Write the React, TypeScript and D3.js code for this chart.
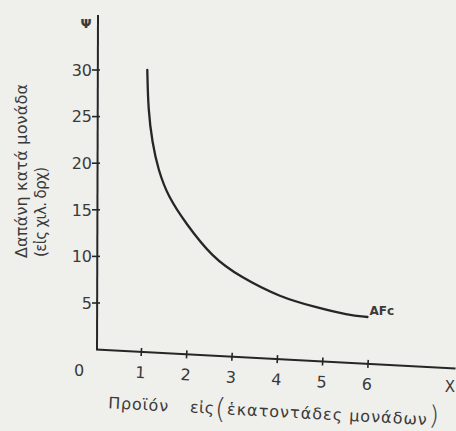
import React from 'react';
import * as d3 from 'd3';

// Output (hundreds of units) and average fixed cost (thousand drachmas)
const outputHundreds = [1.13, 1.15, 1.24, 1.37, 1.59, 1.97, 2.56, 3.18, 4.06, 4.88, 5.54, 5.98];
const costPerUnit = [30, 25.7, 22.2, 19.3, 16.4, 13.6, 9.9, 7.8, 5.6, 4.5, 3.7, 3.5];

const xTicks = [1, 2, 3, 4, 5, 6];
const yTicks = [5, 10, 15, 20, 25, 30];

const W = 456;
const H = 431;
const INK = '#262626';
const TEXT = '#3a3a3a';
const FONT = '"DejaVu Sans", sans-serif';

export default function App() {
  const x = d3.scaleLinear().domain([0, 6]).range([96, 368.4]);
  const y = d3.scaleLinear().domain([0, 30]).range([349.6, 70]);

  const ox = x(0);
  const oy = y(0);
  const xAxisEnd = W; // axis runs off the right edge
  const yAxisTop = 15;
  const tilt = 3; // hand-drawn x axis slopes down slightly

  const pts: [number, number][] = outputHundreds.map((v, i) => [v, costPerUnit[i]]);
  const line = d3
    .line<[number, number]>()
    .x((d) => x(d[0]))
    .y((d) => y(d[1]))
    .curve(d3.curveBasis);

  const last = pts[pts.length - 1];

  return (
    <svg
      width={W}
      height={H}
      style={{ position: 'absolute', left: 0, top: 0, background: '#efefec' }}
      fontFamily={FONT}
    >
      <rect width={W} height={H} fill="#efefec" />

      {/* y axis */}
      <line x1={ox + 1} y1={oy} x2={ox + 2} y2={yAxisTop} stroke={INK} strokeWidth={2} />
      <text x={ox - 10} y={28} fontSize={13} fill={TEXT} textAnchor="middle" fontWeight="bold">
        Ψ
      </text>
      {yTicks.map((t) => (
        <g key={t}>
          <line x1={ox - 4} x2={ox + 4} y1={y(t)} y2={y(t)} stroke={INK} strokeWidth={1.6} />
          <text x={ox - 4} y={y(t)} dy="0.36em" textAnchor="end" fontSize={16} fill={TEXT}>
            {t}
          </text>
        </g>
      ))}

      {/* x axis and its title, slightly tilted as drawn */}
      <g transform={`rotate(${tilt}, ${ox}, ${oy})`}>
        <line x1={ox} y1={oy} x2={xAxisEnd} y2={oy} stroke={INK} strokeWidth={2} />
        {xTicks.map((t) => (
          <g key={t}>
            <line x1={x(t)} x2={x(t)} y1={oy - 4} y2={oy + 4} stroke={INK} strokeWidth={1.6} />
            <text x={x(t)} y={oy + 26} textAnchor="middle" fontSize={16} fill={TEXT}>
              {t}
            </text>
          </g>
        ))}
        <text x={111} y={oy + 58} fontSize={16} fill={TEXT} textLength={60} lengthAdjust="spacing">
          Προϊόν
        </text>
        <text x={193} y={oy + 58} fontSize={16} fill={TEXT} textLength={24} lengthAdjust="spacing">
          εἰς
        </text>
        <text x={218} y={oy + 62} fontSize={28} fill={TEXT} fontWeight="200">
          (
        </text>
        <text x={230} y={oy + 58} fontSize={16} fill={TEXT} textLength={200} lengthAdjust="spacing">
          ἑκατοντάδες μονάδων
        </text>
        <text x={432} y={oy + 57} fontSize={26} fill={TEXT} fontWeight="200">
          )
        </text>
      </g>
      <text x={ox - 17} y={oy + 26} textAnchor="middle" fontSize={16} fill={TEXT}>
        0
      </text>
      <text x={450} y={392} textAnchor="middle" fontSize={15} fill={TEXT}>
        X
      </text>

      {/* AFc curve */}
      <path d={line(pts) ?? ''} fill="none" stroke={INK} strokeWidth={2.3} strokeLinecap="round" />
      <text x={x(last[0]) + 2} y={y(last[1]) - 2} fontSize={12} fontWeight="bold" fill={TEXT}>
        AFc
      </text>

      {/* y axis title */}
      <g transform="translate(27, 258) rotate(-90)">
        <text x={0} y={0} fontSize={16} fill={TEXT} textLength={174} lengthAdjust="spacing">
          Δαπάνη κατά μονάδα
        </text>
        <text x={1} y={19} fontSize={15} fill={TEXT} textLength={90} lengthAdjust="spacing">
          (εἰς χιλ. δρχ)
        </text>
      </g>
    </svg>
  );
}
